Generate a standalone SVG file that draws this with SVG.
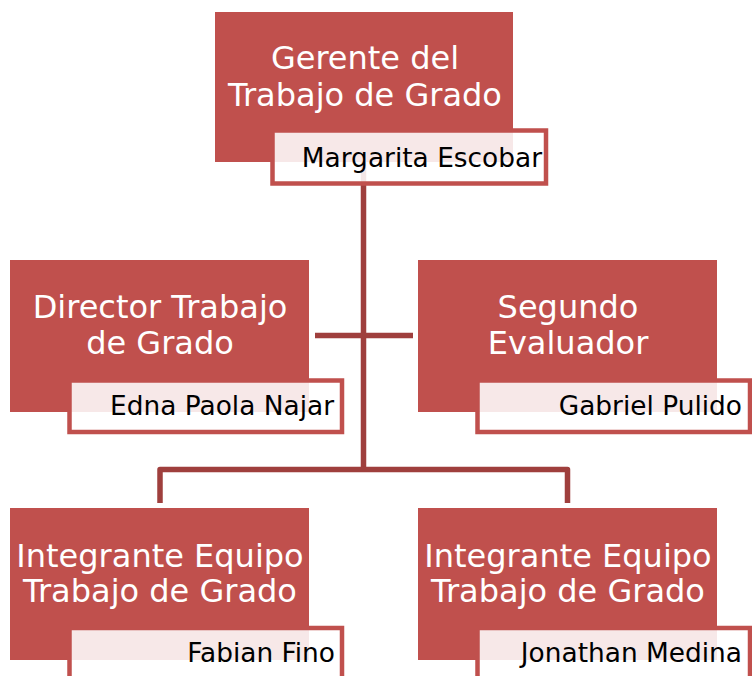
<svg xmlns="http://www.w3.org/2000/svg" width="752" height="676" viewBox="0 0 752 676">
<style>
.main{fill:#c0504d;}
.sub{fill:#ffffff;fill-opacity:0.87;stroke:#c0504d;stroke-width:4.5;}
.title{font-family:"DejaVu Sans",Verdana,sans-serif;font-size:32px;fill:#ffffff;text-anchor:middle;}
.name{font-family:"DejaVu Sans",Verdana,sans-serif;font-size:26.4px;fill:#000000;text-anchor:end;}
.conn{fill:none;stroke:#9f3f3d;stroke-width:5.5;stroke-linejoin:round;}
</style>
<rect width="752" height="676" fill="#ffffff"/>
<g id="connectors">
<path class="conn" d="M363.5,150 V469.5"/>
<path class="conn" d="M315,335.5 H413"/>
<path class="conn" d="M160,503 V469.5 H567.5 V503"/>
</g>
<g id="gerente">
<rect class="main" x="215" y="12" width="298" height="150"/>
<rect class="sub" x="272.5" y="130.5" width="273.5" height="53"/>
<text class="title" x="365" y="69">Gerente del</text>
<text class="title" x="365" y="106">Trabajo de Grado</text>
<text class="name" x="542" y="167">Margarita Escobar</text>
</g>
<g id="director">
<rect class="main" x="10" y="260" width="299" height="152"/>
<rect class="sub" x="69.5" y="380.5" width="272.5" height="51.5"/>
<text class="title" x="160" y="318">Director Trabajo</text>
<text class="title" x="160" y="354">de Grado</text>
<text class="name" x="334" y="415">Edna Paola Najar</text>
</g>
<g id="segundo">
<rect class="main" x="418" y="260" width="299" height="152"/>
<rect class="sub" x="477.5" y="380.5" width="272.5" height="51.5"/>
<text class="title" x="568" y="318">Segundo</text>
<text class="title" x="568" y="354">Evaluador</text>
<text class="name" x="742" y="415">Gabriel Pulido</text>
</g>
<g id="integrante1">
<rect class="main" x="10" y="508" width="299" height="152"/>
<rect class="sub" x="69.5" y="628" width="272.5" height="60"/>
<text class="title" x="160" y="567">Integrante Equipo</text>
<text class="title" x="160" y="602">Trabajo de Grado</text>
<text class="name" x="335" y="662">Fabian Fino</text>
</g>
<g id="integrante2">
<rect class="main" x="418" y="508" width="299" height="152"/>
<rect class="sub" x="477.5" y="628" width="272.5" height="60"/>
<text class="title" x="568" y="567">Integrante Equipo</text>
<text class="title" x="568" y="602">Trabajo de Grado</text>
<text class="name" x="742" y="662">Jonathan Medina</text>
</g>
</svg>
